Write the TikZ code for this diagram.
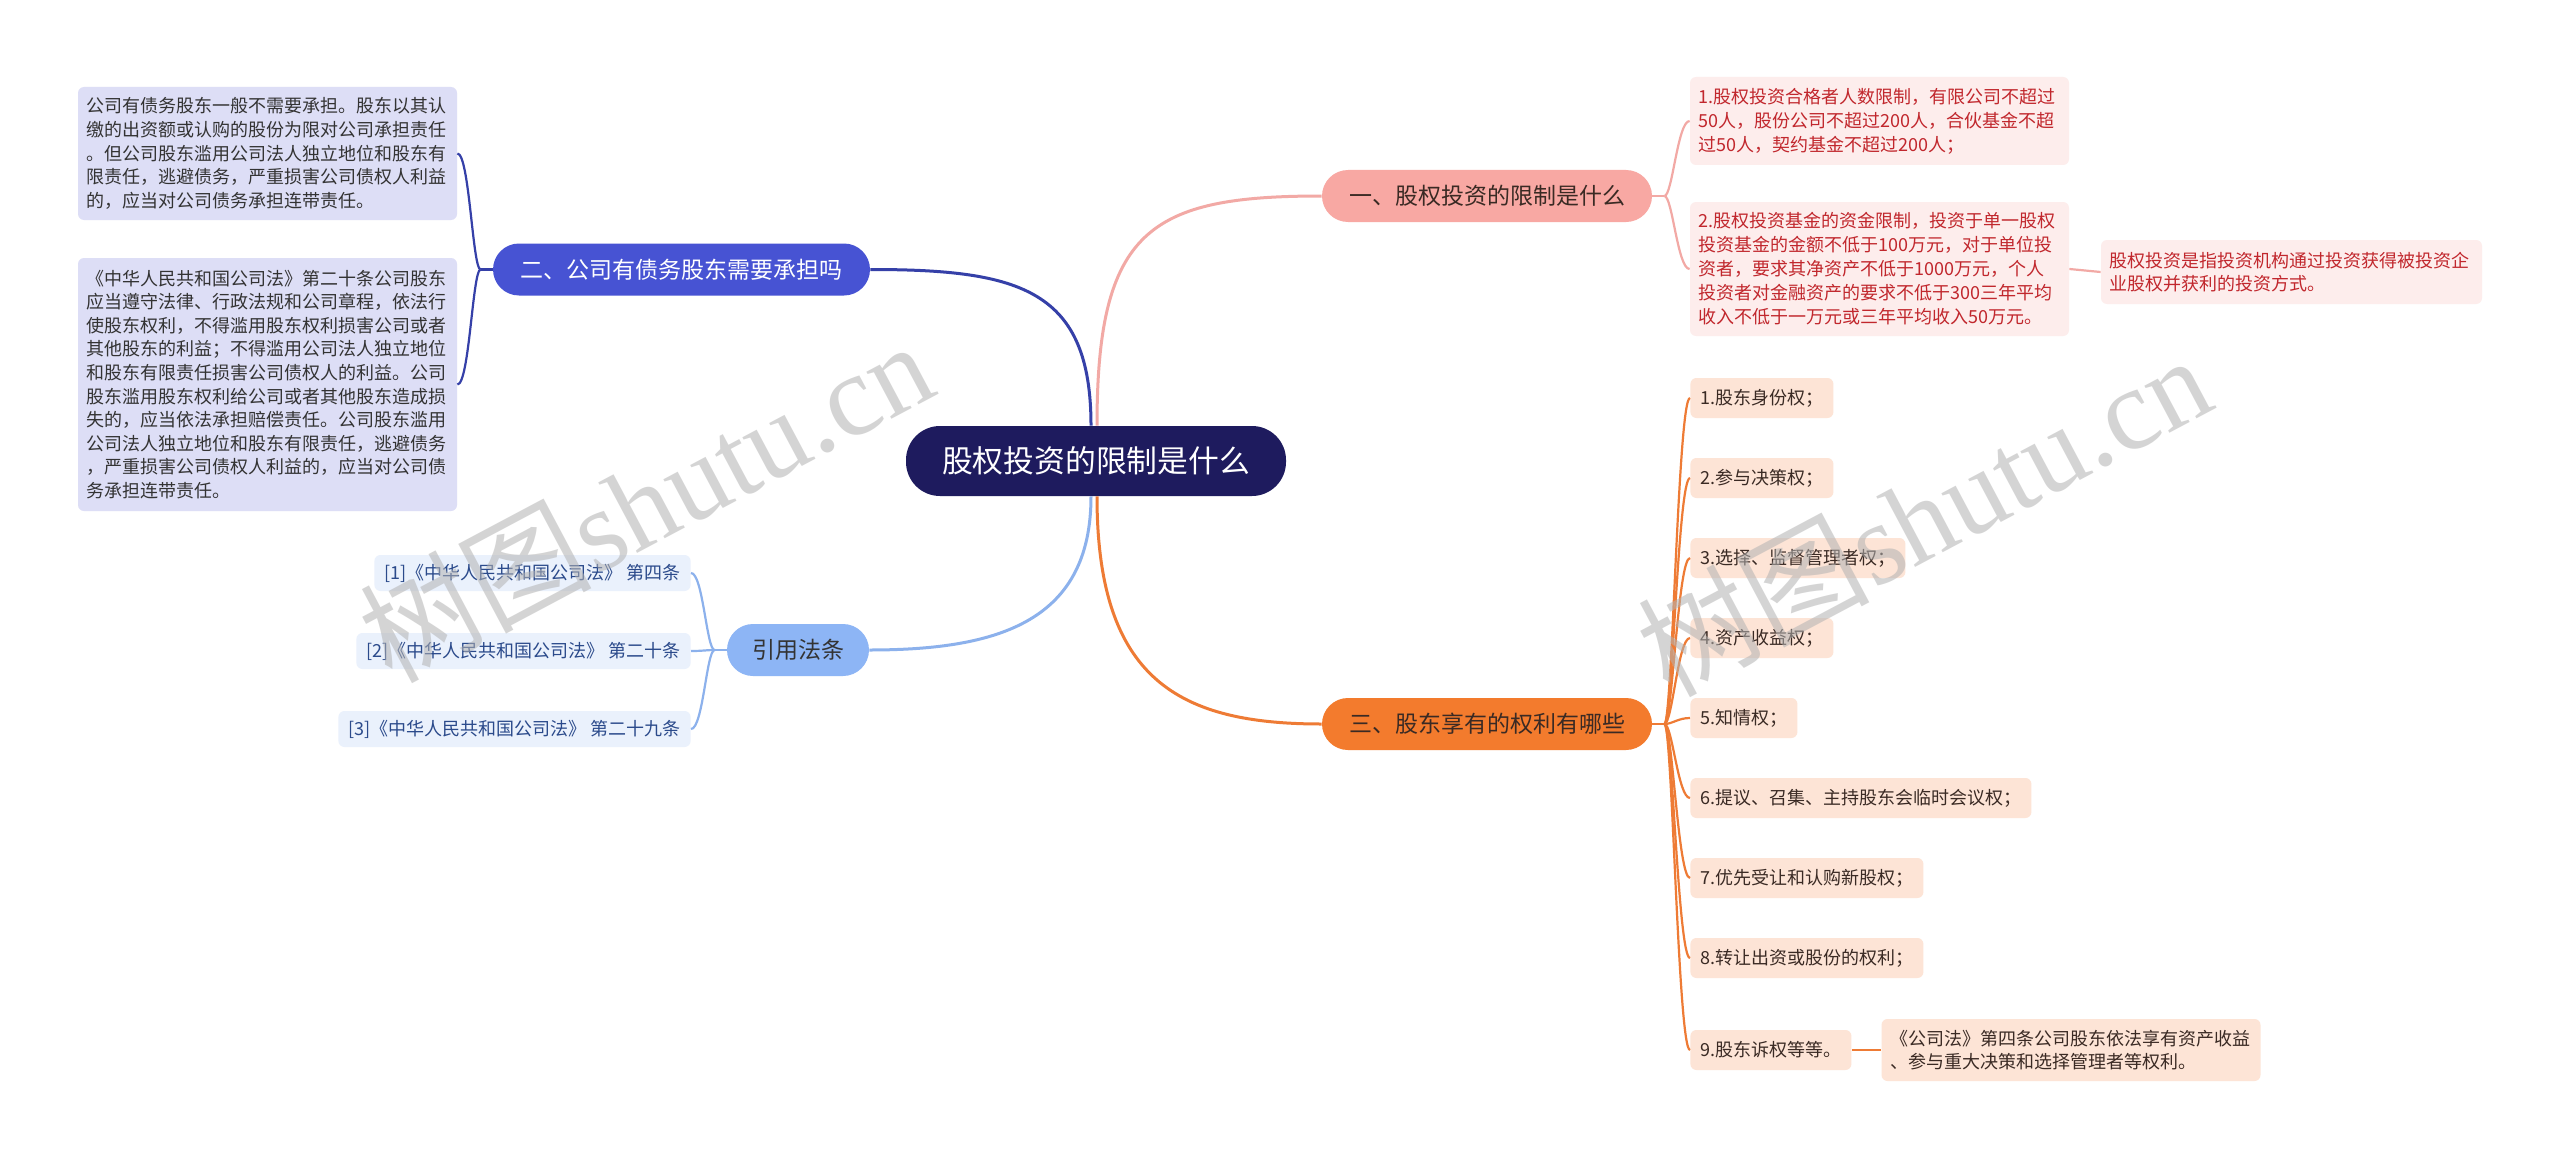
\documentclass[tikz,border=0pt]{standalone}
\usepackage{fontspec}
\setmainfont{Noto Sans CJK SC}
\newfontfamily\wmlatin{Liberation Serif}
\usepackage{tikz}
\usetikzlibrary{calc,positioning}
\definecolor{rootnavy}{HTML}{1E1B5E}
\definecolor{pinktopic}{HTML}{F8A8A3}
\definecolor{pinkline}{HTML}{F2A9A5}
\definecolor{pinkleaf}{HTML}{FDEDEC}
\definecolor{redtext}{HTML}{C1272D}
\definecolor{bluetopic}{HTML}{4753D3}
\definecolor{blueline}{HTML}{3540A8}
\definecolor{lavleaf}{HTML}{DDDEF6}
\definecolor{orangetopic}{HTML}{F37B2D}
\definecolor{orangeline}{HTML}{EE7B35}
\definecolor{orangeleaf}{HTML}{FDE4D6}
\definecolor{skytopic}{HTML}{8DB5F5}
\definecolor{skyline}{HTML}{8CB1EC}
\definecolor{skyleaf}{HTML}{EAF1FC}
\definecolor{skytext}{HTML}{2B4A8B}
\definecolor{darktext}{HTML}{3A2A24}
\tikzset{
  root/.style  = {fill=rootnavy, text=white, rounded corners=17pt, minimum width=190pt,
                  minimum height=35pt, font=\fontsize{15.4}{18}\selectfont},
  topic/.style = {rounded corners=13pt, minimum height=26pt, inner xsep=0pt,
                  font=\fontsize{11.5}{13}\selectfont},
  note/.style  = {rounded corners=3pt, align=left, inner xsep=4.25pt, inner ysep=2pt,
                  text width=181pt, font=\fontsize{9}{11.8}\selectfont},
  tag/.style   = {rounded corners=3pt, inner xsep=5pt, minimum height=20pt,
                  font=\fontsize{9}{11}\selectfont},
  link/.style  = {line width=1.5pt},
  twig/.style  = {line width=1.1pt},
  wmark/.style = {text=gray!60, opacity=0.55, font=\fontsize{58}{62}\selectfont},
}

\begin{document}
\begin{tikzpicture}[x=0.5pt,y=-0.5pt]
  \fill[white] (0,0) rectangle (2560,1161);
  \useasboundingbox (0,0) rectangle (2560,1161);

  % centre and main topics
  \node[root] (root) at (1096,461) {股权投资的限制是什么};
  \node[topic, fill=pinktopic, text=darktext, minimum width=165pt] (b1) at (1487,196)
      {一、股权投资的限制是什么};
  \node[topic, fill=bluetopic, text=white, minimum width=188.5pt] (b2) at (681.5,269.5)
      {二、公司有债务股东需要承担吗};
  \node[topic, fill=orangetopic, text=darktext, minimum width=165pt] (b3) at (1487,724)
      {三、股东享有的权利有哪些};
  \node[topic, fill=skytopic, text=black!80, minimum width=71pt] (b4) at (798,650)
      {引用法条};

  \draw[link, pinkline]   ($(root.north)+(1,0)$)  .. controls +(0,-196) and +(-172,0) .. (b1.west);
  \draw[link, blueline]   ($(root.north)+(-5,0)$) .. controls +(0,-136) and +(150,0) .. (b2.east);
  \draw[link, orangeline] ($(root.south)+(1,0)$)  .. controls +(0,184) and +(-142,0) .. (b3.west);
  \draw[link, skyline]    ($(root.south)+(-5,0)$) .. controls +(0,124) and +(131,0) .. (b4.east);

  % topic one
  \node[note, fill=pinkleaf, text=redtext, font=\fontsize{9}{12}\selectfont,
        minimum height=44pt] (p1) at (1879.5,121)
      {1.股权投资合格者人数限制，有限公司不超过\\50人，股份公司不超过200人，合伙基金不超\\过50人，契约基金不超过200人；};
  \node[note, fill=pinkleaf, text=redtext, font=\fontsize{9}{12}\selectfont,
        minimum height=67pt] (p2) at (1879.5,269)
      {2.股权投资基金的资金限制，投资于单一股权\\投资基金的金额不低于100万元，对于单位投\\资者，要求其净资产不低于1000万元，个人\\投资者对金融资产的要求不低于300三年平均\\收入不低于一万元或三年平均收入50万元。};
  \node[note, fill=pinkleaf, text=redtext, minimum height=32pt, text width=182pt] (p3) at (2291.5,272)
      {股权投资是指投资机构通过投资获得被投资企\\业股权并获利的投资方式。};
  \draw[twig, pinkline] (b1.east) -- ++(12,0) coordinate (b1j);
  \draw[twig, pinkline] (b1j) .. controls +(8,0) and +(-12,0) .. (p1.west);
  \draw[twig, pinkline] (b1j) .. controls +(8,0) and +(-12,0) .. (p2.west);
  \draw[twig, pinkline] (p2.east) -- (p3.west);

  % topic two
  \node[note, fill=lavleaf, text=black!80, minimum height=66.5pt] (d1) at (267.5,153.5)
      {公司有债务股东一般不需要承担。股东以其认\\缴的出资额或认购的股份为限对公司承担责任\\。但公司股东滥用公司法人独立地位和股东有\\限责任，逃避债务，严重损害公司债权人利益\\的，应当对公司债务承担连带责任。};
  \node[note, fill=lavleaf, text=black!80, minimum height=126.5pt] (d2) at (267.5,384.5)
      {《中华人民共和国公司法》第二十条公司股东\\应当遵守法律、行政法规和公司章程，依法行\\使股东权利，不得滥用股东权利损害公司或者\\其他股东的利益；不得滥用公司法人独立地位\\和股东有限责任损害公司债权人的利益。公司\\股东滥用股东权利给公司或者其他股东造成损\\失的，应当依法承担赔偿责任。公司股东滥用\\公司法人独立地位和股东有限责任，逃避债务\\，严重损害公司债权人利益的，应当对公司债\\务承担连带责任。};
  \draw[twig, blueline] (b2.west) -- ++(-12,0) coordinate (b2j);
  \draw[twig, blueline] (b2j) .. controls +(-8,0) and +(12,0) .. (d1.east);
  \draw[twig, blueline] (b2j) .. controls +(-8,0) and +(12,0) .. (d2.east);

  % topic three
  \node[tag, fill=orangeleaf, text=darktext, anchor=west] (r1) at (1690,398) {1.股东身份权；};
  \node[tag, fill=orangeleaf, text=darktext, anchor=west] (r2) at (1690,478) {2.参与决策权；};
  \node[tag, fill=orangeleaf, text=darktext, anchor=west] (r3) at (1690,558) {3.选择、监督管理者权；};
  \node[tag, fill=orangeleaf, text=darktext, anchor=west] (r4) at (1690,638) {4.资产收益权；};
  \node[tag, fill=orangeleaf, text=darktext, anchor=west] (r5) at (1690,718) {5.知情权；};
  \node[tag, fill=orangeleaf, text=darktext, anchor=west] (r6) at (1690,798) {6.提议、召集、主持股东会临时会议权；};
  \node[tag, fill=orangeleaf, text=darktext, anchor=west] (r7) at (1690,878) {7.优先受让和认购新股权；};
  \node[tag, fill=orangeleaf, text=darktext, anchor=west] (r8) at (1690,958) {8.转让出资或股份的权利；};
  \node[tag, fill=orangeleaf, text=darktext, anchor=west] (r9) at (1690,1050) {9.股东诉权等等。};
  \node[note, fill=orangeleaf, text=darktext, minimum height=31pt] (r10) at (2071,1050)
      {《公司法》第四条公司股东依法享有资产收益\\、参与重大决策和选择管理者等权利。};
  \draw[twig, orangeline] (b3.east) -- ++(12,0) coordinate (b3j);
  \draw[twig, orangeline] (b3j) .. controls +(8,0) and +(-12,0) .. (r1.west);
  \draw[twig, orangeline] (b3j) .. controls +(8,0) and +(-12,0) .. (r2.west);
  \draw[twig, orangeline] (b3j) .. controls +(8,0) and +(-12,0) .. (r3.west);
  \draw[twig, orangeline] (b3j) .. controls +(8,0) and +(-12,0) .. (r4.west);
  \draw[twig, orangeline] (b3j) .. controls +(8,0) and +(-12,0) .. (r5.west);
  \draw[twig, orangeline] (b3j) .. controls +(8,0) and +(-12,0) .. (r6.west);
  \draw[twig, orangeline] (b3j) .. controls +(8,0) and +(-12,0) .. (r7.west);
  \draw[twig, orangeline] (b3j) .. controls +(8,0) and +(-12,0) .. (r8.west);
  \draw[twig, orangeline] (b3j) .. controls +(8,0) and +(-12,0) .. (r9.west);
  \draw[twig, orangeline] (r9.east) -- (r10.west);

  % cited articles
  \node[tag, fill=skyleaf, text=skytext, anchor=east, minimum height=18pt] (s1) at (691,573)
      {[1]《中华人民共和国公司法》 第四条};
  \node[tag, fill=skyleaf, text=skytext, anchor=east, minimum height=18pt] (s2) at (691,651)
      {[2]《中华人民共和国公司法》 第二十条};
  \node[tag, fill=skyleaf, text=skytext, anchor=east, minimum height=18pt] (s3) at (691,729)
      {[3]《中华人民共和国公司法》 第二十九条};
  \draw[twig, skyline] (b4.west) -- ++(-12,0) coordinate (b4j);
  \draw[twig, skyline] (b4j) .. controls +(-8,0) and +(12,0) .. (s1.east);
  \draw[twig, skyline] (b4j) .. controls +(-8,0) and +(12,0) .. (s2.east);
  \draw[twig, skyline] (b4j) .. controls +(-8,0) and +(12,0) .. (s3.east);

  % watermarks
  \node[wmark, rotate=28] (wm1) at (645,500) {树图{\wmlatin shutu.cn}};
  \node[wmark, rotate=28] (wm2) at (1923,514) {树图{\wmlatin shutu.cn}};
\end{tikzpicture}
\end{document}
